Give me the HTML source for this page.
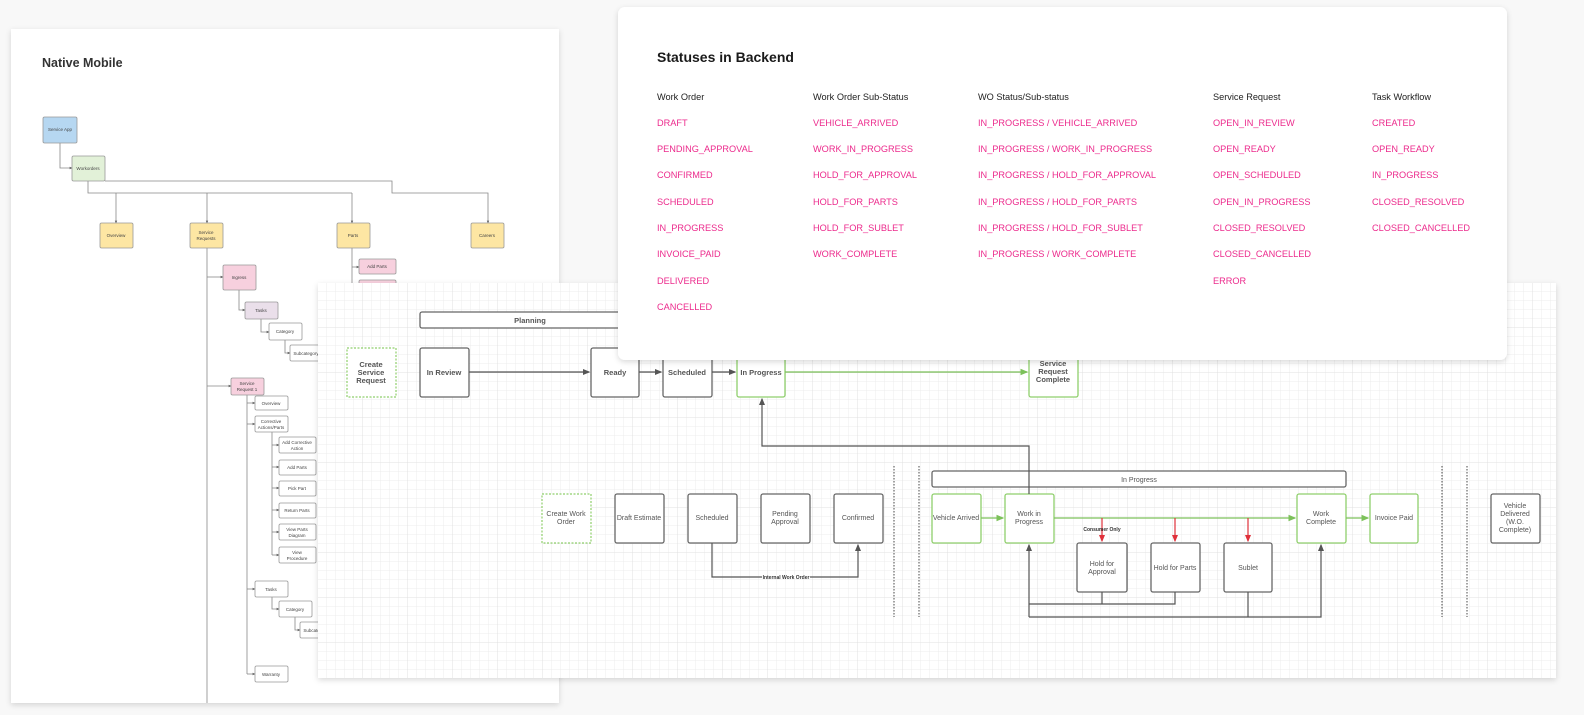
<!DOCTYPE html>
<html><head><meta charset="utf-8"><style>
html,body{margin:0;padding:0;background:#f8f8f8;}
svg{display:block;font-family:"Liberation Sans",sans-serif;}
</style></head><body>
<svg width="1584" height="715" viewBox="0 0 1584 715" xmlns="http://www.w3.org/2000/svg">
<defs>
<pattern id="g" width="9" height="9" patternUnits="userSpaceOnUse" x="318" y="283">
<path d="M9 0V9M0 9H9" fill="none" stroke="#e9e9e9" stroke-width="0.8"/>
</pattern>
<pattern id="G" width="45" height="45" patternUnits="userSpaceOnUse" x="318" y="283">
<path d="M45 0V45M0 45H45" fill="none" stroke="#dedede" stroke-width="0.8"/>
</pattern>
<filter id="sh" x="-5%" y="-5%" width="110%" height="115%"><feDropShadow dx="0" dy="2" stdDeviation="3" flood-color="#000" flood-opacity="0.15"/></filter>
<marker id="a" markerWidth="6" markerHeight="6" refX="5" refY="3" orient="auto"><path d="M0,0.5L6,3L0,5.5z" fill="#555"/></marker>
<marker id="ag" markerWidth="6" markerHeight="6" refX="5" refY="3" orient="auto"><path d="M0,0.5L6,3L0,5.5z" fill="#7cc15a"/></marker>
<marker id="ar" markerWidth="6" markerHeight="6" refX="5" refY="3" orient="auto"><path d="M0,0.5L6,3L0,5.5z" fill="#e0303a"/></marker>
<marker id="s" markerWidth="4" markerHeight="4" refX="3" refY="2" orient="auto"><path d="M0,0.5L4,2L0,3.5z" fill="#666"/></marker>
</defs>

<!-- left card -->
<rect x="11" y="29" width="548" height="674" fill="#fff" filter="url(#sh)"/>
<text x="42" y="67" font-size="12.5" font-weight="bold" fill="#333">Native Mobile</text>
<g stroke="#888" stroke-width="0.8" fill="none">
<path d="M60 143V168H72" marker-end="url(#s)"/>
<path d="M88 181V193H352"/>
<path d="M116 193V223" marker-end="url(#s)"/>
<path d="M207 193V223" marker-end="url(#s)"/>
<path d="M352 193V223" marker-end="url(#s)"/>
<path d="M105 181H392V193H488V223" marker-end="url(#s)"/>
<path d="M207 248V703"/>
<path d="M207 277H223" marker-end="url(#s)"/>
<path d="M207 386H231" marker-end="url(#s)"/>
<path d="M239 290V310H245" marker-end="url(#s)"/>
<path d="M261 319V332H269" marker-end="url(#s)"/>
<path d="M285 340V353H290" marker-end="url(#s)"/>
<path d="M352 248V290"/>
<path d="M352 267H359" marker-end="url(#s)"/>
<path d="M247 395V674"/>
<path d="M247 403H255" marker-end="url(#s)"/>
<path d="M247 424H255" marker-end="url(#s)"/>
<path d="M272 432V555"/>
<path d="M272 445H279" marker-end="url(#s)"/>
<path d="M272 467H279" marker-end="url(#s)"/>
<path d="M272 488H279" marker-end="url(#s)"/>
<path d="M272 510H279" marker-end="url(#s)"/>
<path d="M272 532H279" marker-end="url(#s)"/>
<path d="M272 555H279" marker-end="url(#s)"/>
<path d="M247 589H255" marker-end="url(#s)"/>
<path d="M272 597V609H279" marker-end="url(#s)"/>
<path d="M295 617V630H300" marker-end="url(#s)"/>
<path d="M247 674H255" marker-end="url(#s)"/>
</g>
<g stroke="#999" stroke-width="0.8" font-size="4.5" fill="#444" text-anchor="middle">
<rect x="43" y="117" width="34" height="26" rx="1.5" fill="#b6d7f1"/>
<rect x="72" y="156" width="33" height="25" rx="1.5" fill="#e2f1d8"/>
<rect x="100" y="223" width="33" height="25" rx="1.5" fill="#fde6a3"/>
<rect x="190" y="223" width="33" height="25" rx="1.5" fill="#fde6a3"/>
<rect x="337" y="223" width="33" height="25" rx="1.5" fill="#fde6a3"/>
<rect x="471" y="223" width="33" height="25" rx="1.5" fill="#fde6a3"/>
<rect x="223" y="265" width="33" height="25" rx="1.5" fill="#f7d0de"/>
<rect x="245" y="302" width="33" height="17" rx="1.5" fill="#eadfea"/>
<rect x="269" y="323" width="33" height="17" rx="1.5" fill="#fff"/>
<rect x="290" y="345" width="33" height="16" rx="1.5" fill="#fff"/>
<rect x="359" y="259" width="37" height="15" rx="1.5" fill="#f7d0de"/>
<rect x="359" y="280" width="37" height="15" rx="1.5" fill="#f7d0de"/>
<rect x="231" y="378" width="33" height="17" rx="1.5" fill="#f7d0de"/>
<rect x="255" y="396" width="33" height="14" rx="1.5" fill="#fff"/>
<rect x="255" y="416" width="33" height="16" rx="1.5" fill="#fff"/>
<rect x="279" y="437" width="37" height="16" rx="1.5" fill="#fff"/>
<rect x="279" y="460" width="37" height="15" rx="1.5" fill="#fff"/>
<rect x="279" y="481" width="37" height="15" rx="1.5" fill="#fff"/>
<rect x="279" y="503" width="37" height="15" rx="1.5" fill="#fff"/>
<rect x="279" y="524" width="37" height="16" rx="1.5" fill="#fff"/>
<rect x="279" y="547" width="37" height="16" rx="1.5" fill="#fff"/>
<rect x="255" y="581" width="33" height="16" rx="1.5" fill="#fff"/>
<rect x="279" y="601" width="33" height="16" rx="1.5" fill="#fff"/>
<rect x="300" y="622" width="33" height="16" rx="1.5" fill="#fff"/>
<rect x="255" y="666" width="33" height="16" rx="1.5" fill="#fff"/>
</g>
<g font-size="4.5" fill="#444" text-anchor="middle">
<text x="60" y="131">Service App</text>
<text x="88" y="170">Workorders</text>
<text x="116" y="237">Overview</text>
<text x="206" y="234">Service</text><text x="206" y="240">Requests</text>
<text x="353" y="237">Parts</text>
<text x="487" y="237">Careers</text>
<text x="239" y="279">Ingress</text>
<text x="261" y="312">Tasks</text>
<text x="285" y="333">Category</text>
<text x="306" y="355">Subcategory</text>
<text x="377" y="268">Add Parts</text>
<text x="247" y="385">Service</text><text x="247" y="391">Request 1</text>
<text x="271" y="405">Overview</text>
<text x="271" y="423">Corrective</text><text x="271" y="429">Actions/Parts</text>
<text x="297" y="444">Add Corrective</text><text x="297" y="450">Action</text>
<text x="297" y="469">Add Parts</text>
<text x="297" y="490">Pick Part</text>
<text x="297" y="512">Return Parts</text>
<text x="297" y="531">View Parts</text><text x="297" y="537">Diagram</text>
<text x="297" y="554">View</text><text x="297" y="560">Procedure</text>
<text x="271" y="591">Tasks</text>
<text x="295" y="611">Category</text>
<text x="316" y="632">Subcategory</text>
<text x="271" y="676">Warranty</text>
</g>

<!-- grid panel -->
<rect x="318" y="283" width="1238" height="395" fill="#fff" filter="url(#sh)"/>
<rect x="318" y="283" width="1238" height="395" fill="url(#g)"/>
<rect x="318" y="283" width="1238" height="395" fill="url(#G)"/>

<g stroke="#666" stroke-width="1.3" fill="#fff">
<rect x="420" y="312" width="220" height="16" rx="2"/>
<rect x="420" y="348" width="49" height="49" rx="2"/>
<rect x="591" y="348" width="48" height="49" rx="2"/>
<rect x="663" y="348" width="49" height="49" rx="2"/>
<rect x="615" y="494" width="49" height="49" rx="2"/>
<rect x="688" y="494" width="49" height="49" rx="2"/>
<rect x="761" y="494" width="49" height="49" rx="2"/>
<rect x="834" y="494" width="49" height="49" rx="2"/>
<rect x="932" y="471" width="414" height="16" rx="2"/>
<rect x="1077" y="543" width="50" height="49" rx="2"/>
<rect x="1151" y="543" width="49" height="49" rx="2"/>
<rect x="1224" y="543" width="48" height="49" rx="2"/>
<rect x="1491" y="494" width="49" height="49" rx="2"/>
</g>
<g stroke="#8fcf6c" stroke-width="1.3" fill="#fff">
<rect x="737" y="348" width="48" height="49" rx="2"/>
<rect x="1029" y="348" width="49" height="49" rx="2"/>
<rect x="932" y="494" width="49" height="49" rx="2"/>
<rect x="1005" y="494" width="49" height="49" rx="2"/>
<rect x="1297" y="494" width="49" height="49" rx="2"/>
<rect x="1370" y="494" width="48" height="49" rx="2"/>
</g>
<g stroke="#8fcf6c" stroke-width="1.2" stroke-dasharray="2,1.5" fill="#fff">
<rect x="347" y="348" width="49" height="49"/>
<rect x="542" y="494" width="49" height="49"/>
</g>
<g stroke="#666" stroke-width="1.2" stroke-dasharray="1.5,1.5">
<path d="M894 466V617M919 466V617M1442 466V617M1467 466V617"/>
</g>
<g stroke="#555" stroke-width="1.2" fill="none">
<path d="M469 372H589" marker-end="url(#a)"/>
<path d="M639 372H661" marker-end="url(#a)"/>
<path d="M712 372H735" marker-end="url(#a)"/>
<path d="M1029 494V446H762V399" marker-end="url(#a)"/>
<path d="M712 543V577H858V545" marker-end="url(#a)"/>
<path d="M1102 592V604M1175 592V604H1029"/>
<path d="M1248 592V617"/>
<path d="M1029 617V545" marker-end="url(#a)"/>
<path d="M1029 617H1321V545" marker-end="url(#a)"/>
</g>
<g stroke="#7cc15a" stroke-width="1.3" fill="none">
<path d="M785 372H1027" marker-end="url(#ag)"/>
<path d="M981 518H1003" marker-end="url(#ag)"/>
<path d="M1054 518H1295" marker-end="url(#ag)"/>
<path d="M1346 518H1368" marker-end="url(#ag)"/>
</g>
<g stroke="#e0303a" stroke-width="1.2" fill="none">
<path d="M1102 518V541" marker-end="url(#ar)"/>
<path d="M1175 518V541" marker-end="url(#ar)"/>
<path d="M1248 518V541" marker-end="url(#ar)"/>
</g>
<rect x="762" y="575" width="48" height="4" fill="#fff"/>
<text x="786" y="579" font-size="5" font-weight="bold" fill="#333" text-anchor="middle">Internal Work Order</text>
<text x="1102" y="531" font-size="5" font-weight="bold" fill="#333" text-anchor="middle">Consumer Only</text>

<g font-size="7.5" font-weight="bold" fill="#555" text-anchor="middle">
<text x="530" y="323">Planning</text>
<text x="371" y="367">Create</text><text x="371" y="375">Service</text><text x="371" y="383">Request</text>
<text x="444" y="375">In Review</text>
<text x="615" y="375">Ready</text>
<text x="687" y="375">Scheduled</text>
<text x="761" y="375">In Progress</text>
<text x="1053" y="366">Service</text><text x="1053" y="374">Request</text><text x="1053" y="382">Complete</text>
</g>
<g font-size="7" fill="#555" text-anchor="middle">
<text x="566" y="516">Create Work</text><text x="566" y="524">Order</text>
<text x="639" y="520">Draft Estimate</text>
<text x="712" y="520">Scheduled</text>
<text x="785" y="516">Pending</text><text x="785" y="524">Approval</text>
<text x="858" y="520">Confirmed</text>
<text x="1139" y="482">In Progress</text>
<text x="956" y="520">Vehicle Arrived</text>
<text x="1029" y="516">Work in</text><text x="1029" y="524">Progress</text>
<text x="1102" y="566">Hold for</text><text x="1102" y="574">Approval</text>
<text x="1175" y="570">Hold for Parts</text>
<text x="1248" y="570">Sublet</text>
<text x="1321" y="516">Work</text><text x="1321" y="524">Complete</text>
<text x="1394" y="520">Invoice Paid</text>
<text x="1515" y="508">Vehicle</text><text x="1515" y="516">Delivered</text><text x="1515" y="524">(W.O.</text><text x="1515" y="532">Complete)</text>
</g>

<!-- top card -->
<rect x="618" y="7" width="889" height="353" rx="7" fill="#fff" filter="url(#sh)"/>
<text x="657" y="62" font-size="14" font-weight="bold" fill="#1a1a1a">Statuses in Backend</text>
<g font-size="9.2" fill="#222">
<text x="657" y="100">Work Order</text>
<text x="813" y="100">Work Order Sub-Status</text>
<text x="978" y="100">WO Status/Sub-status</text>
<text x="1213" y="100">Service Request</text>
<text x="1372" y="100">Task Workflow</text>
</g>
<g font-size="9.2" fill="#ec2a8c">
<text x="657" y="126">DRAFT</text>
<text x="657" y="152">PENDING_APPROVAL</text>
<text x="657" y="178">CONFIRMED</text>
<text x="657" y="205">SCHEDULED</text>
<text x="657" y="231">IN_PROGRESS</text>
<text x="657" y="257">INVOICE_PAID</text>
<text x="657" y="284">DELIVERED</text>
<text x="657" y="310">CANCELLED</text>
<text x="813" y="126">VEHICLE_ARRIVED</text>
<text x="813" y="152">WORK_IN_PROGRESS</text>
<text x="813" y="178">HOLD_FOR_APPROVAL</text>
<text x="813" y="205">HOLD_FOR_PARTS</text>
<text x="813" y="231">HOLD_FOR_SUBLET</text>
<text x="813" y="257">WORK_COMPLETE</text>
<text x="978" y="126">IN_PROGRESS / VEHICLE_ARRIVED</text>
<text x="978" y="152">IN_PROGRESS / WORK_IN_PROGRESS</text>
<text x="978" y="178">IN_PROGRESS / HOLD_FOR_APPROVAL</text>
<text x="978" y="205">IN_PROGRESS / HOLD_FOR_PARTS</text>
<text x="978" y="231">IN_PROGRESS / HOLD_FOR_SUBLET</text>
<text x="978" y="257">IN_PROGRESS / WORK_COMPLETE</text>
<text x="1213" y="126">OPEN_IN_REVIEW</text>
<text x="1213" y="152">OPEN_READY</text>
<text x="1213" y="178">OPEN_SCHEDULED</text>
<text x="1213" y="205">OPEN_IN_PROGRESS</text>
<text x="1213" y="231">CLOSED_RESOLVED</text>
<text x="1213" y="257">CLOSED_CANCELLED</text>
<text x="1213" y="284">ERROR</text>
<text x="1372" y="126">CREATED</text>
<text x="1372" y="152">OPEN_READY</text>
<text x="1372" y="178">IN_PROGRESS</text>
<text x="1372" y="205">CLOSED_RESOLVED</text>
<text x="1372" y="231">CLOSED_CANCELLED</text>
</g>
</svg>
</body></html>
